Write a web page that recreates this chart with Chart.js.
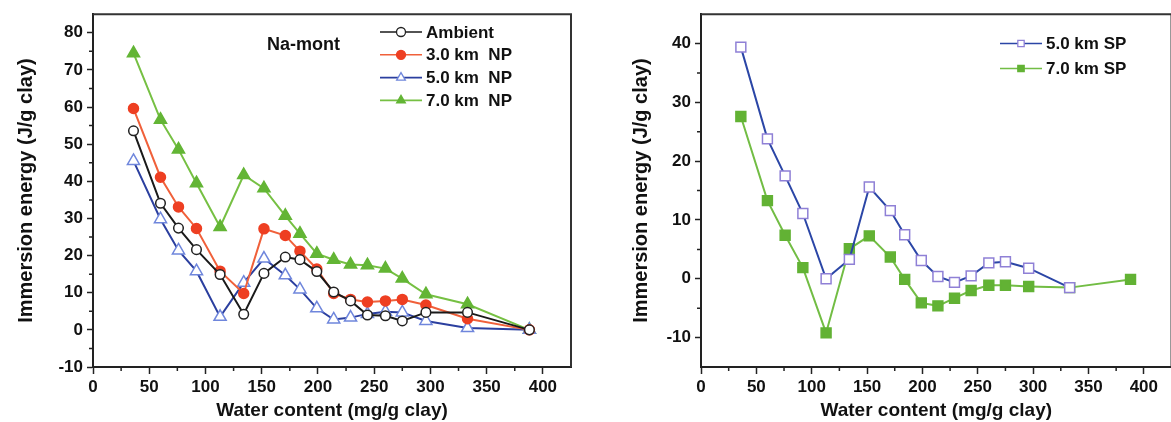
<!DOCTYPE html>
<html>
<head>
<meta charset="utf-8">
<script src="https://cdn.jsdelivr.net/npm/chart.js@4.4.1/dist/chart.umd.min.js"></script>
<style>
  html, body { margin: 0; padding: 0; background: #fff; overflow: hidden; width: 1171px; height: 422px; }
  #left { position: absolute; left: 0; top: 0; }
  #right { position: absolute; left: 600px; top: 0; }
</style>
</head>
<body>
<canvas id="left" width="590" height="422"></canvas>
<canvas id="right" width="580" height="422"></canvas>
<script>
// water content (mg/g clay), shared by all series
const water = [36, 60, 76, 92, 113, 134, 152, 171, 184, 199, 214, 229, 244, 260, 275, 296, 333, 388];

// Na-mont, immersion energy (J/g clay)
const ambient = [53.6, 34.1, 27.4, 21.6, 14.9, 4.2, 15.2, 19.6, 18.9, 15.7, 10.2, 7.8, 4.0, 3.8, 2.4, 4.7, 4.7, 0];
const np3 = [59.6, 41.1, 33.1, 27.3, 15.8, 9.8, 27.2, 25.4, 21.2, 16.4, 9.8, 8.2, 7.5, 7.8, 8.2, 6.7, 3.0, 0];
const np5 = [45.5, 29.8, 21.4, 15.8, 3.5, 12.7, 19.2, 14.7, 10.9, 5.8, 2.8, 3.3, 4.3, 4.9, 4.7, 2.4, 0.5, 0];
const np7 = [74.5, 56.6, 48.6, 39.5, 27.7, 41.7, 38.1, 30.7, 25.9, 20.5, 18.9, 17.6, 17.4, 16.5, 13.8, 9.6, 6.9, 0];

// SP series (5.0 km SP stops at 333)
const sp5 = [39.4, 23.8, 17.5, 11.1, 0.0, 3.3, 15.6, 11.6, 7.5, 3.1, 0.4, -0.6, 0.5, 2.7, 2.9, 1.8, -1.5];
const sp7 = [27.6, 13.3, 7.4, 1.9, -9.2, 5.1, 7.3, 3.7, -0.1, -4.1, -4.6, -3.3, -2.0, -1.1, -1.1, -1.3, -1.5, -0.1];

// tick labels
const xTicks = [0, 50, 100, 150, 200, 250, 300, 350, 400];
const leftYTicks = [-10, 0, 10, 20, 30, 40, 50, 60, 70, 80];
const rightYTicks = [-10, 0, 10, 20, 30, 40];

const fam = "'Liberation Sans', Arial, sans-serif";
Chart.defaults.font.family = fam;
Chart.defaults.color = '#111';

function pts(vals) {
    return vals.map((v, i) => ({ x: water[i], y: v }));
}

function drawMarker(ctx, style, x, y, r) {
    ctx.beginPath();
    if (style === 'circle') {
        ctx.arc(x, y, r, 0, Math.PI * 2);
    } else if (style === 'triangle') {
        ctx.moveTo(x, y - r);
        ctx.lineTo(x + r * 0.866, y + r * 0.5);
        ctx.lineTo(x - r * 0.866, y + r * 0.5);
        ctx.closePath();
    } else {
        let s = r * 0.707;
        ctx.rect(x - s, y - s, 2 * s, 2 * s);
    }
    ctx.fill();
    ctx.stroke();
}

// frame, minor ticks, legend and label text
const decor = {
    id: 'decor',
    afterDraw(chart, args, opts) {
        const ctx = chart.ctx;
        const a = chart.chartArea;
        ctx.save();
        ctx.strokeStyle = '#333';
        ctx.lineWidth = 2;
        ctx.beginPath();
        ctx.moveTo(a.left, a.top);
        ctx.lineTo(a.right, a.top);
        ctx.lineTo(a.right, a.bottom);
        ctx.stroke();

        // minor ticks halfway between labelled ones
        ctx.strokeStyle = '#222';
        ctx.lineWidth = 1.5;
        const xs = chart.scales.x, ys = chart.scales.y;
        ctx.beginPath();
        for (let v = xTicks[0] - 25; v < xs.max; v += 50) {
            if (v <= xs.min) continue;
            let px = xs.getPixelForValue(v);
            ctx.moveTo(px, a.bottom);
            ctx.lineTo(px, a.bottom + 4);
        }
        const yt = opts.yTicks;
        for (let v = yt[0] - 5; v < ys.max; v += 10) {
            if (v <= ys.min) continue;
            let py = ys.getPixelForValue(v);
            ctx.moveTo(a.left, py);
            ctx.lineTo(a.left - 4, py);
        }
        ctx.stroke();

        // legend
        ctx.font = 'bold 17px ' + fam;
        ctx.textBaseline = 'middle';
        ctx.textAlign = 'left';
        chart.data.datasets.forEach((ds, i) => {
            let y = opts.y + i * opts.dy;
            ctx.strokeStyle = ds.borderColor;
            ctx.lineWidth = 1.6;
            ctx.beginPath();
            ctx.moveTo(opts.x, y);
            ctx.lineTo(opts.x + 42, y);
            ctx.stroke();
            ctx.fillStyle = ds.pointBackgroundColor;
            ctx.strokeStyle = ds.pointBorderColor;
            ctx.lineWidth = 1.3;
            drawMarker(ctx, ds.pointStyle, opts.x + 21, y, ds.pointStyle === 'triangle' ? 5 : 4.5);
            ctx.fillStyle = '#111';
            ctx.fillText(ds.label, opts.x + 46, y + 1);
        });

        if (opts.note) {
            ctx.font = 'bold 18px ' + fam;
            ctx.fillText(opts.note, opts.noteX, opts.noteY);
        }
        ctx.restore();
    }
};

function makeChart(id, datasets, yTicks, yMin, yMax, yWidth, padRight, titlePad, legendOpts) {
    legendOpts.yTicks = yTicks;
    return new Chart(document.getElementById(id), {
        type: 'line',
        data: { datasets: datasets },
        options: {
            responsive: false,
            animation: false,
            layout: { padding: { top: 12, right: padRight, bottom: 0, left: 0 } },
            plugins: {
                legend: { display: false },
                tooltip: { enabled: false },
                decor: legendOpts
            },
            scales: {
                x: {
                    type: 'linear',
                    min: 0,
                    max: 425,
                    afterBuildTicks: s => { s.ticks = xTicks.map(v => ({ value: v })); },
                    ticks: {
                        maxRotation: 0,
                        padding: 3,
                        color: '#111',
                        font: { size: 17, weight: 'bold' }
                    },
                    grid: { drawOnChartArea: false, tickLength: 7, tickColor: '#222', tickWidth: 1.5 },
                    border: { color: '#222', width: 2 },
                    title: {
                        display: true,
                        text: 'Water content (mg/g clay)',
                        color: '#111',
                        font: { size: 19, weight: 'bold' },
                        padding: { top: 0, bottom: 0 }
                    },
                    afterFit: s => { s.height = 55; }
                },
                y: {
                    min: yMin,
                    max: yMax,
                    afterBuildTicks: s => { s.ticks = yTicks.map(v => ({ value: v })); },
                    ticks: {
                        padding: 4,
                        color: '#111',
                        font: { size: 17, weight: 'bold' }
                    },
                    grid: { drawOnChartArea: false, tickLength: 6, tickColor: '#222', tickWidth: 1.5 },
                    border: { color: '#222', width: 2 },
                    title: {
                        display: true,
                        text: 'Immersion energy (J/g clay)',
                        color: '#111',
                        font: { size: 20, weight: 'bold' },
                        padding: { top: titlePad, bottom: 0 }
                    },
                    afterFit: s => { s.width = yWidth; }
                }
            }
        },
        plugins: [decor]
    });
}

function series(label, vals, line, style, fill, edge, r) {
    return {
        label: label,
        data: pts(vals),
        borderColor: line,
        borderWidth: 2,
        tension: 0,
        pointStyle: style,
        pointRadius: r,
        pointBackgroundColor: fill,
        pointBorderColor: edge,
        pointBorderWidth: 1.5,
        clip: false
    };
}

makeChart('left', [
    series('Ambient', ambient, '#1a1a1a', 'circle', '#ffffff', '#222222', 4.8),
    series('3.0 km  NP', np3, '#f0603a', 'circle', '#ee3f22', '#ee3f22', 5),
    series('5.0 km  NP', np5, '#2b3f9f', 'triangle', '#ffffff', '#6f86dc', 7),
    series('7.0 km  NP', np7, '#76c043', 'triangle', '#63b535', '#63b535', 7)
], leftYTicks, -10, 85, 93, 19, 14, { x: 380, y: 32, dy: 22.8, note: 'Na-mont', noteX: 267, noteY: 45 });

makeChart('right', [
    series('5.0 km SP', sp5, '#2b46a6', 'rect', '#ffffff', '#8f80d6', 7),
    series('7.0 km SP', sp7, '#72bd44', 'rect', '#62b234', '#62b234', 7)
], rightYTicks, -15, 45, 101, 0, 29, { x: 400, y: 43.5, dy: 25 });
</script>
</body>
</html>
